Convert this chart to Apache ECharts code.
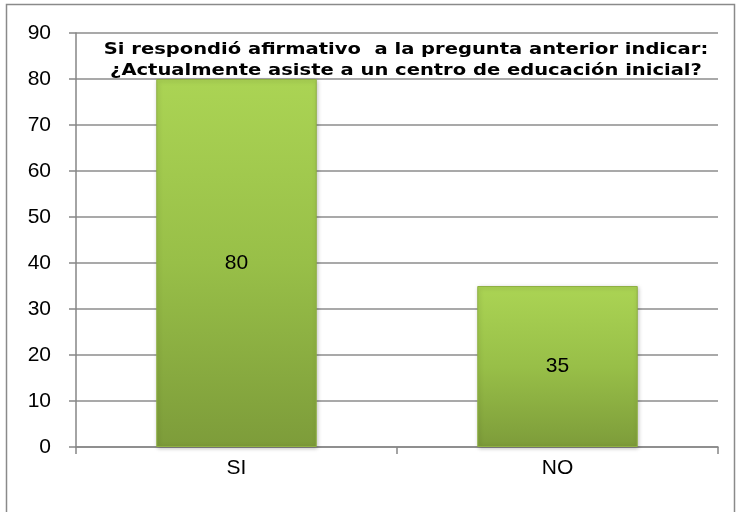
<!DOCTYPE html>
<html>
<head>
<meta charset="utf-8">
<script src="https://cdn.jsdelivr.net/npm/echarts@6/dist/echarts.min.js"></script>
<style>
  html, body { margin: 0; padding: 0; background: #fff; }
  #chart { width: 738px; height: 512px; }
</style>
</head>
<body>
<div id="chart"></div>
<script>
  const categories = ['SI', 'NO']
  const values = [80, 35]
  const titleLines = [
    'Si respondió afirmativo  a la pregunta anterior indicar:',
    '¿Actualmente asiste a un centro de educación inicial?'
  ]

  const chart = echarts.init(document.getElementById('chart'))

  const barColor = new echarts.graphic.LinearGradient(0, 0, 0, 1, [
    { offset: 0, color: '#abd454' },
    { offset: 0.5, color: '#98bf48' },
    { offset: 1, color: '#7d9c3a' }
  ])

  const labelFont = 'Liberation Sans Narrow, Liberation Sans'

  const option = {
    animation: false,
    graphic: [
      {
        type: 'rect',
        shape: { x: 6.5, y: 4.5, width: 728, height: 520 },
        style: { fill: 'none', stroke: '#8a8a8a', lineWidth: 1.5 },
        silent: true
      },
      {
        // title text is stretched sideways in the original
        type: 'text',
        x: 406,
        y: 39,
        scaleX: 1.22,
        z: 10,
        style: {
          text: titleLines.join('\n'),
          textAlign: 'center',
          textVerticalAlign: 'top',
          font: 'bold 16px "DejaVu Sans"',
          lineHeight: 21,
          fill: '#000'
        }
      }
    ],
    grid: {
      left: 76,
      right: 20,
      top: 33,
      bottom: 65
    },
    xAxis: {
      type: 'category',
      data: categories,
      axisLine: { lineStyle: { color: '#868686', width: 1.5 } },
      axisTick: { show: true, length: 7, lineStyle: { color: '#868686', width: 1.5 } },
      axisLabel: {
        fontFamily: labelFont,
        fontSize: 21,
        color: '#000',
        margin: 11
      }
    },
    yAxis: {
      type: 'value',
      min: 0,
      max: 90,
      interval: 10,
      axisLine: { show: true, lineStyle: { color: '#868686', width: 1.5 } },
      axisTick: { show: true, length: 7, lineStyle: { color: '#868686', width: 1.5 } },
      splitLine: { lineStyle: { color: '#8c8c8c', width: 1.5 } },
      axisLabel: {
        fontFamily: labelFont,
        fontSize: 21,
        color: '#000',
        margin: 25
      }
    },
    series: [
      {
        type: 'bar',
        data: values,
        barWidth: '50%',
        itemStyle: {
          color: barColor,
          borderColor: '#8fb043',
          borderWidth: 1,
          shadowColor: 'rgba(0,0,0,0.25)',
          shadowBlur: 4,
          shadowOffsetX: 1,
          shadowOffsetY: 1
        },
        label: {
          show: true,
          position: 'inside',
          fontFamily: labelFont,
          fontSize: 21,
          color: '#000'
        }
      }
    ]
  }

  chart.setOption(option)
  window.addEventListener('resize', () => chart.resize())
</script>
</body>
</html>
